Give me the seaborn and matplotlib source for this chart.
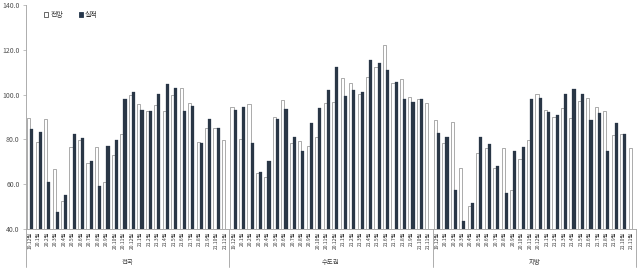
import numpy as np
import pandas as pd
import matplotlib
matplotlib.use("Agg")
import matplotlib.pyplot as plt
import matplotlib.transforms as mtransforms
import seaborn as sns

# ---------------- data ----------------
months = ['19.12', '20.1', '20.2', '20.3', '20.4', '20.5', '20.6', '20.7', '20.8',
          '20.9', '20.10', '20.11', '20.12', '21.1', '21.2', '21.3', '21.4', '21.5',
          '21.6', '21.7', '21.8', '21.9', '21.10', '21.11']
groups = ['전국', '수도권', '지방']
series_names = ['전망', '실적']

forecast_national = [89.5, 78.8, 89.2, 66.7, 52.4, 76.8, 79.8, 69.4, 76.8, 61.0, 73.0, 82.4,
                     99.7, 95.8, 92.6, 95.3, 92.8, 100.0, 102.9, 96.2, 79.0, 85.0, 85.2, 79.7]
actual_national = [84.7, 83.2, 61.0, 47.5, 55.2, 82.5, 80.7, 70.3, 59.2, 77.1, 79.8, 98.2,
                   101.1, 93.2, 92.6, 100.3, 104.9, 102.9, 92.8, 95.0, 78.3, 89.2, 85.2, np.nan]

forecast_capital = [94.4, 80.1, 95.8, 64.9, 63.1, 90.0, 97.6, 78.3, 79.1, 77.1, 81.0, 96.1,
                    96.5, 107.4, 105.2, 100.3, 107.9, 112.3, 122.3, 105.2, 107.0, 98.9, 98.0, 96.2]
actual_capital = [93.2, 94.3, 78.5, 65.4, 70.3, 89.2, 93.7, 81.0, 74.9, 87.4, 94.0, 101.9,
                  112.5, 99.4, 101.9, 101.1, 115.6, 114.1, 111.1, 105.5, 98.0, 96.8, 98.2, np.nan]

forecast_local = [88.6, 78.5, 87.6, 67.1, 50.1, 73.9, 76.2, 67.4, 76.2, 57.4, 71.2, 79.7,
                  100.3, 93.1, 89.8, 94.1, 89.5, 97.3, 98.5, 94.4, 92.6, 81.9, 82.4, 76.1]
actual_local = [83.0, 81.2, 57.4, 43.6, 51.6, 81.2, 77.9, 68.2, 56.1, 74.9, 76.7, 97.9,
                98.6, 92.2, 90.7, 100.4, 102.5, 100.3, 88.8, 91.9, 74.6, 87.4, 82.4, np.nan]

yticks = [40, 60, 80, 100, 120, 140]

# ---------------- table ----------------
forecasts = [forecast_national, forecast_capital, forecast_local]
actuals = [actual_national, actual_capital, actual_local]
rows = []
cats = []
cat_labels = []
for g, fc, ac in zip(groups, forecasts, actuals):
    for m, f, a in zip(months, fc, ac):
        c = f"{g}|{m}"
        cats.append(c)
        cat_labels.append(f"{m}월")
        rows.append({'cat': c, 'series': '전망', 'value': f})
        rows.append({'cat': c, 'series': '실적', 'value': a})
df = pd.DataFrame(rows).dropna()

# ---------------- plot ----------------
sns.set_theme(style="white")
plt.rcParams['font.family'] = ['Noto Sans CJK KR', 'DejaVu Sans']

fig = plt.figure(figsize=(6.43, 2.70), dpi=100)
ax = fig.add_axes([26 / 643, 1 - 229 / 270, 610 / 643, 224 / 270])

navy = '#25364B'
edge_gray = '#8a8a8a'
sns.barplot(data=df, x='cat', y='value', hue='series', order=cats,
            hue_order=series_names, palette={'전망': 'white', '실적': navy},
            width=0.74, gap=0, errorbar=None, ax=ax, legend=True)

for cont, lab in zip(ax.containers, series_names):
    for p in cont:
        if lab == '전망':
            p.set_edgecolor(edge_gray)
            p.set_linewidth(0.5)
        else:
            p.set_edgecolor(navy)
            p.set_linewidth(0.2)

ax.set_ylim(40, 140)
ax.set_xlim(-0.5, len(cats) - 0.5)
ax.set_yticks(yticks)
ax.set_yticklabels([f"{v:.1f}" for v in yticks], fontsize=5, color='#505050')
ax.set_xlabel('')
ax.set_ylabel('')

# x tick labels
ax.set_xticks(range(len(cats)))
ax.set_xticklabels(cat_labels, rotation=90, fontsize=3.6, color='#404040')
ax.tick_params(axis='x', which='major', length=0, pad=2)
ax.set_xticks(np.arange(-0.5, len(cats), 1), minor=True)
ax.tick_params(axis='x', which='minor', length=15, width=0.4, color='#b0b0b0', direction='out')
ax.tick_params(axis='y', which='major', length=2.5, width=0.4, color='#909090', pad=2,
               left=True)

for s in ['top', 'right']:
    ax.spines[s].set_visible(False)
for s in ['left', 'bottom']:
    ax.spines[s].set_color('#a0a0a0')
    ax.spines[s].set_linewidth(0.6)

# group separators and group labels
trans = mtransforms.blended_transform_factory(ax.transData, ax.transAxes)
n = len(months)
for i in range(len(groups) + 1):
    xb = i * n - 0.5
    ax.plot([xb, xb], [0, -38 / 224], transform=trans, color='#a0a0a0', lw=0.6,
            clip_on=False)
for i, g in enumerate(groups):
    ax.text(i * n + (n - 1) / 2, -33 / 224, g, transform=trans, ha='center', va='center',
            fontsize=4.6, color='#404040')

# legend
leg = ax.legend(loc='upper left', bbox_to_anchor=(0.022, 0.995), ncol=2, frameon=False,
                fontsize=5, handlelength=0.6, handleheight=0.6, handletextpad=0.3,
                columnspacing=2.2, borderpad=0.2)
for h, lab in zip(leg.legend_handles, series_names):
    if lab == '전망':
        h.set_facecolor('white')
        h.set_edgecolor('#505050')
    else:
        h.set_facecolor(navy)
        h.set_edgecolor(navy)
    h.set_linewidth(0.6)
for t in leg.get_texts():
    t.set_color('#303030')

fig.savefig('out.png', dpi=100)
